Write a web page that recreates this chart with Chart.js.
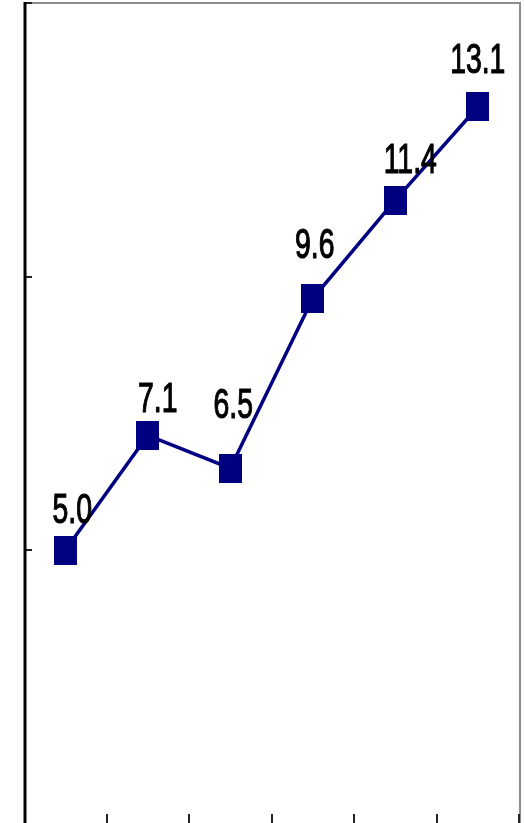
<!DOCTYPE html>
<html>
<head>
<meta charset="utf-8">
<script src="https://cdn.jsdelivr.net/npm/chart.js@4.4.1/dist/chart.umd.min.js"></script>
<style>
    html, body { margin: 0; padding: 0; background: #fff; overflow: hidden; }
    canvas { display: block; }
</style>
</head>
<body>
<canvas id="trendChart" width="525" height="830"></canvas>
<script>
// Date
const categories = ['1', '2', '3', '4', '5', '6'];
const values = [5.0, 7.1, 6.5, 9.6, 11.4, 13.1];
const yTicks = [0, 5, 10, 15];

// Deplasarea etichetelor fata de punct (px)
const labelDx = [7, 10, 3, 2, 15, 0];
const labelDy = [-27, -23, -50, -41, -27, -34];

const NAVY = '#000080';

// Marker dreptunghiular (putin mai ingust decat inalt)
const makeMarker = () => {
    const c = document.createElement('canvas');
    c.width = 23;
    c.height = 29;
    const g = c.getContext('2d');
    g.fillStyle = NAVY;
    g.fillRect(0, 0, c.width, c.height);
    return c;
};

// Chenar, axa stanga si tick-uri interioare
const framePlugin = {
    id: 'frame',
    beforeDatasetsDraw(chart) {
        const { ctx, chartArea: a, scales } = chart;
        ctx.save();
        ctx.strokeStyle = '#8c8c8c';
        ctx.lineWidth = 2;
        ctx.beginPath();
        ctx.moveTo(a.left, a.top);
        ctx.lineTo(a.right + 1, a.top);
        ctx.lineTo(a.right + 1, a.bottom);
        ctx.stroke();

        // tick-uri pe axa Y
        ctx.strokeStyle = '#222';
        ctx.lineWidth = 2;
        yTicks.forEach(v => {
            const y = Math.round(scales.y.getPixelForValue(v));
            ctx.beginPath();
            ctx.moveTo(a.left, y);
            ctx.lineTo(a.left + 8, y);
            ctx.stroke();
        });

        // tick-uri pe axa X, la marginile categoriilor
        const step = (a.right - a.left) / categories.length;
        for (let i = 1; i <= categories.length; i++) {
            const x = Math.round(a.left + step * i);
            ctx.beginPath();
            ctx.moveTo(x, a.bottom);
            ctx.lineTo(x, a.bottom - 10);
            ctx.stroke();
        }

        ctx.strokeStyle = '#000';
        ctx.lineWidth = 3;
        ctx.beginPath();
        ctx.moveTo(a.left + 1, a.top - 1);
        ctx.lineTo(a.left + 1, a.bottom + 2);
        ctx.stroke();
        ctx.restore();
    }
};

// Etichete cu valori deasupra punctelor
const valueLabels = {
    id: 'valueLabels',
    afterDatasetsDraw(chart) {
        const { ctx } = chart;
        const meta = chart.getDatasetMeta(0);
        ctx.save();
        ctx.fillStyle = '#000';
        ctx.strokeStyle = '#000';
        ctx.lineWidth = 1.2;
        ctx.font = '43px "Liberation Sans", Arial, sans-serif';
        ctx.textAlign = 'center';
        ctx.textBaseline = 'alphabetic';
        meta.data.forEach((pt, i) => {
            const txt = values[i].toFixed(1);
            ctx.save();
            ctx.translate(pt.x + labelDx[i], pt.y + labelDy[i]);
            ctx.scale(0.66, 1);
            ctx.fillText(txt, 0, 0);
            ctx.strokeText(txt, 0, 0);
            ctx.restore();
        });
        ctx.restore();
    }
};

const initChart = () => {
    const ctx = document.getElementById('trendChart').getContext('2d');
    new Chart(ctx, {
        type: 'line',
        data: {
            labels: categories,
            datasets: [{
                data: values,
                borderColor: NAVY,
                borderWidth: 3.5,
                tension: 0,
                pointStyle: makeMarker(),
                pointRadius: 12,
                pointHoverRadius: 12,
                clip: false
            }]
        },
        options: {
            responsive: false,
            animation: false,
            layout: {
                autoPadding: false,
                padding: { left: 24, right: 6, top: 3, bottom: 6 }
            },
            plugins: {
                legend: { display: false },
                tooltip: { enabled: false }
            },
            scales: {
                x: { display: false, offset: true },
                y: { display: false, min: 0, max: 15 }
            }
        },
        plugins: [framePlugin, valueLabels]
    });
};

document.addEventListener('DOMContentLoaded', initChart);
</script>
</body>
</html>
